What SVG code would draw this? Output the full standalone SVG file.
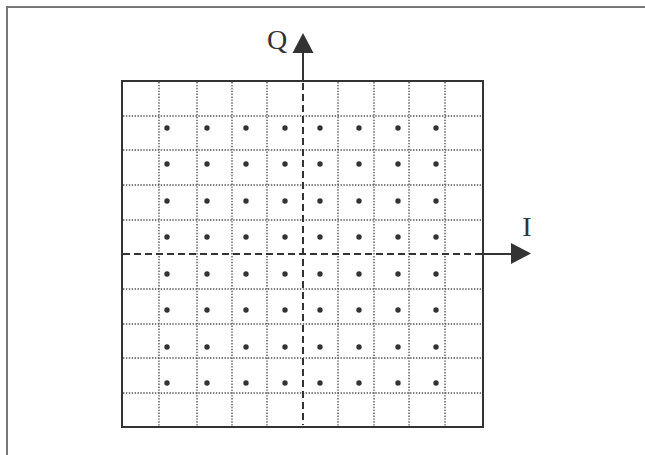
<svg xmlns="http://www.w3.org/2000/svg" width="645" height="455" viewBox="0 0 645 455">
<defs>
<style>
.frame{fill:none;stroke:#777;stroke-width:2}
.box{fill:none;stroke:#333;stroke-width:2}
.grid{fill:none;stroke:#555;stroke-width:1.4;stroke-dasharray:1.4 1.5}
.axis{fill:none;stroke:#333;stroke-width:2}
.dash{stroke-dasharray:7 4}
.dot{fill:#333}
.lbl{font-family:"Liberation Serif",serif;font-size:28px;fill:#333;text-anchor:middle}
.head{fill:#333}
</style>
</defs>
<rect width="645" height="455" fill="#fff"/>
<path class="frame" d="M7,455 V7 H645"/>
<g id="grid">
<rect class="box" x="122" y="81" width="361" height="346"/>
<path class="grid" d="M159,82V426M197,82V426M232,82V426M267,82V426M338,82V426M374,82V426M409,82V426M445,82V426"/>
<path class="grid" d="M123,116H482M123,150H482M123,185H482M123,220H482M123,289H482M123,324H482M123,358H482M123,393H482"/>
</g>
<g id="dots" class="dot">
<g id="r1"><circle cx="167" cy="128" r="2.7"/><circle cx="207" cy="128" r="2.7"/><circle cx="246" cy="128" r="2.7"/><circle cx="285" cy="128" r="2.7"/><circle cx="320" cy="128" r="2.7"/><circle cx="359" cy="128" r="2.7"/><circle cx="398" cy="128" r="2.7"/><circle cx="436" cy="128" r="2.7"/></g>
<g id="r2"><circle cx="167" cy="164" r="2.7"/><circle cx="207" cy="164" r="2.7"/><circle cx="246" cy="164" r="2.7"/><circle cx="285" cy="164" r="2.7"/><circle cx="320" cy="164" r="2.7"/><circle cx="359" cy="164" r="2.7"/><circle cx="398" cy="164" r="2.7"/><circle cx="436" cy="164" r="2.7"/></g>
<g id="r3"><circle cx="167" cy="201" r="2.7"/><circle cx="207" cy="201" r="2.7"/><circle cx="246" cy="201" r="2.7"/><circle cx="285" cy="201" r="2.7"/><circle cx="320" cy="201" r="2.7"/><circle cx="359" cy="201" r="2.7"/><circle cx="398" cy="201" r="2.7"/><circle cx="436" cy="201" r="2.7"/></g>
<g id="r4"><circle cx="167" cy="237" r="2.7"/><circle cx="207" cy="237" r="2.7"/><circle cx="246" cy="237" r="2.7"/><circle cx="285" cy="237" r="2.7"/><circle cx="320" cy="237" r="2.7"/><circle cx="359" cy="237" r="2.7"/><circle cx="398" cy="237" r="2.7"/><circle cx="436" cy="237" r="2.7"/></g>
<g id="r5"><circle cx="167" cy="274" r="2.7"/><circle cx="207" cy="274" r="2.7"/><circle cx="246" cy="274" r="2.7"/><circle cx="285" cy="274" r="2.7"/><circle cx="320" cy="274" r="2.7"/><circle cx="359" cy="274" r="2.7"/><circle cx="398" cy="274" r="2.7"/><circle cx="436" cy="274" r="2.7"/></g>
<g id="r6"><circle cx="167" cy="310" r="2.7"/><circle cx="207" cy="310" r="2.7"/><circle cx="246" cy="310" r="2.7"/><circle cx="285" cy="310" r="2.7"/><circle cx="320" cy="310" r="2.7"/><circle cx="359" cy="310" r="2.7"/><circle cx="398" cy="310" r="2.7"/><circle cx="436" cy="310" r="2.7"/></g>
<g id="r7"><circle cx="167" cy="347" r="2.7"/><circle cx="207" cy="347" r="2.7"/><circle cx="246" cy="347" r="2.7"/><circle cx="285" cy="347" r="2.7"/><circle cx="320" cy="347" r="2.7"/><circle cx="359" cy="347" r="2.7"/><circle cx="398" cy="347" r="2.7"/><circle cx="436" cy="347" r="2.7"/></g>
<g id="r8"><circle cx="167" cy="383" r="2.7"/><circle cx="207" cy="383" r="2.7"/><circle cx="246" cy="383" r="2.7"/><circle cx="285" cy="383" r="2.7"/><circle cx="320" cy="383" r="2.7"/><circle cx="359" cy="383" r="2.7"/><circle cx="398" cy="383" r="2.7"/><circle cx="436" cy="383" r="2.7"/></g>
</g>
<g id="axes">
<g id="q-axis">
<path class="axis dash" d="M303,83V425"/>
<path class="axis" d="M303,82V52"/>
<path class="head" d="M303,33L313.5,53H292.5Z"/>
<text class="lbl" x="277" y="49">Q</text>
</g>
<g id="i-axis">
<path class="axis dash" d="M123,254H482"/>
<path class="axis" d="M483,254H512"/>
<path class="head" d="M531,253.5L511,243V264Z"/>
<text class="lbl" x="527" y="236">I</text>
</g>
</g>
</svg>
